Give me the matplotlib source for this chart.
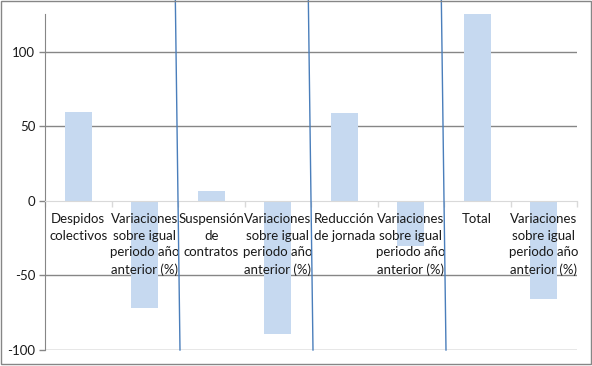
import matplotlib
matplotlib.use("Agg")
import matplotlib.pyplot as plt
from matplotlib.patches import Rectangle
from matplotlib.transforms import blended_transform_factory

categories = [
    "Despidos\ncolectivos",
    "Variaciones\nsobre igual\nperiodo año\nanterior (%)",
    "Suspensión\nde\ncontratos",
    "Variaciones\nsobre igual\nperiodo año\nanterior (%)",
    "Reducción\nde jornada",
    "Variaciones\nsobre igual\nperiodo año\nanterior (%)",
    "Total",
    "Variaciones\nsobre igual\nperiodo año\nanterior (%)",
]
values = [60, -72, 7, -89, 59, -30, 125.5, -66]
yticks = [-100, -50, 0, 50, 100]
separators = [1.5, 3.5, 5.5]

plt.rcParams["font.family"] = ["Lato", "DejaVu Sans"]
plt.rcParams["axes.unicode_minus"] = False
text_color = "#1a1a1a"
grid_color = "#868686"

fig = plt.figure(figsize=(5.92, 3.66), dpi=100)
W, H = 592, 366
ax = fig.add_axes([45 / W, 16 / H, (577 - 45) / W, (350 - 14) / H])

x = list(range(len(categories)))
ax.bar(x, values, width=0.41, color="#c6d9f0", zorder=1)

# gridlines behind the bars
for v in yticks:
    if v != 0:
        ax.axhline(v, color=grid_color, lw=1, zorder=0.5)

ax.set_xlim(-0.5, len(categories) - 0.5)
ax.set_ylim(-100, 125.5)

ax.set_yticks(yticks)
ax.tick_params(axis="y", direction="out", length=4, width=1, color=grid_color,
               labelsize=9.5, labelcolor=text_color, pad=3)

ax.spines["bottom"].set_position(("data", 0))
ax.spines["bottom"].set_color("#d9d9d9")
ax.spines["left"].set_color(grid_color)
ax.spines["top"].set_visible(False)
ax.spines["right"].set_visible(False)

ax.set_xticks(x)
ax.set_xticklabels(categories, fontsize=9.5, color=text_color, linespacing=1.45,
                   multialignment="center")
ax.tick_params(axis="x", which="major", length=0, pad=9)
ax.set_xticks([i - 0.5 for i in range(len(categories) + 1)], minor=True)
ax.tick_params(axis="x", which="minor", direction="out", length=4, width=1,
               color="#d9d9d9")

# slanted blue separator lines drawn over the chart
trans = blended_transform_factory(ax.transData, ax.transAxes)
for s in separators:
    ax.plot([s - 0.04, s + 0.03], [1 + 14 / 336, 0], color="#4a7ebb", lw=1,
            transform=trans, clip_on=False, zorder=3)

fig.patches.append(Rectangle((0.5 / W, 2 / H), 590 / W, 363.5 / H,
                             transform=fig.transFigure, fill=False,
                             edgecolor=grid_color, lw=1))

fig.savefig("out.png", dpi=100)
